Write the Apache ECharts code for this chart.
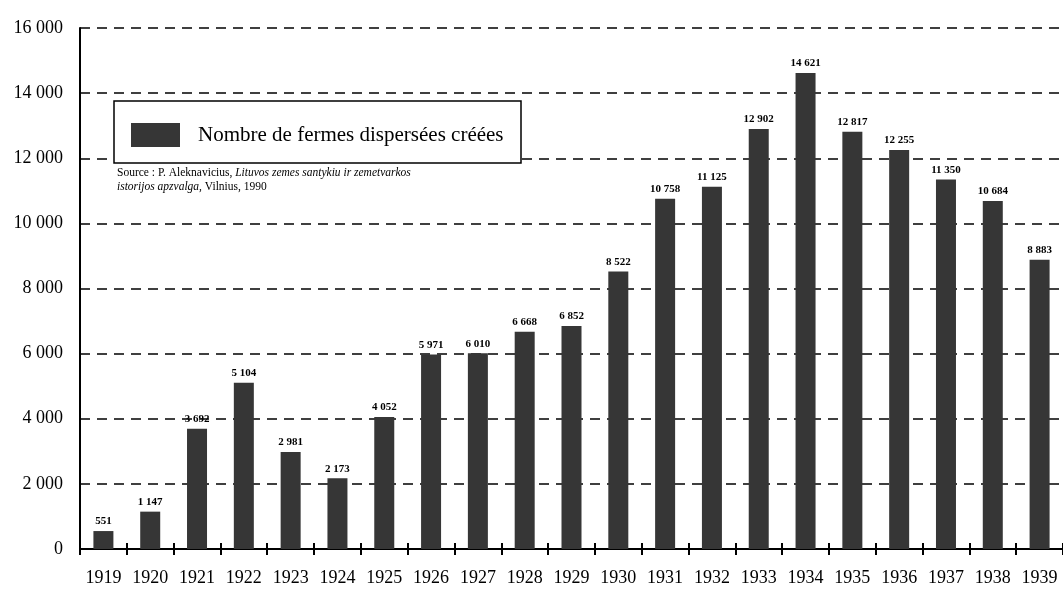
<!DOCTYPE html>
<html>
<head>
<meta charset="utf-8">
<script src="https://cdn.jsdelivr.net/npm/echarts@6/dist/echarts.min.js"></script>
<style>
  html, body { margin: 0; padding: 0; background: #fff; }
  #chart { width: 1063px; height: 591px; }
</style>
</head>
<body>
<div id="chart"></div>
<script>
// données
const years = ["1919", "1920", "1921", "1922", "1923", "1924", "1925", "1926", "1927", "1928", "1929",
  "1930", "1931", "1932", "1933", "1934", "1935", "1936", "1937", "1938", "1939"]
const fermes = [551, 1147, 3692, 5104, 2981, 2173, 4052, 5971, 6010, 6668, 6852,
  8522, 10758, 11125, 12902, 14621, 12817, 12255, 11350, 10684, 8883]
const seriesName = "Nombre de fermes dispersées créées"

const serif = "Liberation Serif"

// 12345 -> "12 345"
function sep(v) {
  return String(v).replace(/\B(?=(\d{3})+(?!\d))/g, " ")
}

const chart = echarts.init(document.getElementById("chart"))

const option = {
  animation: false,
  backgroundColor: "#fff",
  grid: { left: 80, right: 0, top: 28, bottom: 42 },
  legend: {
    data: [seriesName],
    left: 126,
    top: 118,
    itemWidth: 49,
    itemHeight: 24,
    icon: "rect",
    z: 6,
    textStyle: {
      fontFamily: serif,
      fontSize: 21,
      color: "#000",
      padding: [0, 0, 0, 13]
    }
  },
  graphic: [
    {
      type: "rect",
      z: 5,
      shape: { x: 114, y: 101, width: 407, height: 62 },
      style: { fill: "#fff", stroke: "#000", lineWidth: 1.5 }
    },
    {
      type: "text",
      z: 5,
      left: 117,
      top: 166,
      style: {
        text: "{r|Source : P. Aleknavicius, }{i|Lituvos zemes santykiu ir zemetvarkos}\n{i|istorijos apzvalga,}{r| Vilnius, 1990}",
        lineHeight: 14,
        rich: {
          r: { fontFamily: serif, fontSize: 11.5, fill: "#000", lineHeight: 14 },
          i: { fontFamily: serif, fontSize: 11.5, fontStyle: "italic", fill: "#000", lineHeight: 14 }
        }
      }
    }
  ],
  xAxis: [
    {
      type: "category",
      data: years,
      position: "bottom",
      axisLine: { show: true, lineStyle: { color: "#000", width: 2 } },
      axisTick: { show: true, length: 6, lineStyle: { color: "#000", width: 2 } },
      axisLabel: { fontFamily: serif, fontSize: 18, color: "#000", margin: 20 }
    },
    {
      type: "category",
      data: years,
      position: "bottom",
      axisLine: { show: false },
      axisTick: { show: true, inside: true, length: 6, lineStyle: { color: "#000", width: 2 } },
      axisLabel: { show: false }
    }
  ],
  yAxis: {
    type: "value",
    min: 0,
    max: 16000,
    interval: 2000,
    axisLine: { show: true, lineStyle: { color: "#000", width: 2 } },
    axisTick: { show: false },
    axisLabel: {
      fontFamily: serif,
      fontSize: 18,
      color: "#000",
      margin: 17,
      formatter: (v) => sep(v)
    },
    splitLine: {
      show: true,
      lineStyle: { color: "#000", width: 1.5, type: [10, 7] }
    }
  },
  series: [
    {
      name: seriesName,
      type: "bar",
      xAxisIndex: 0,
      data: fermes,
      barWidth: 20,
      itemStyle: { color: "#363636" },
      label: {
        show: true,
        position: "top",
        distance: 4,
        fontFamily: serif,
        fontSize: 11,
        fontWeight: "bold",
        color: "#000",
        formatter: (p) => sep(p.value)
      }
    }
  ]
}

chart.setOption(option)
</script>
</body>
</html>
